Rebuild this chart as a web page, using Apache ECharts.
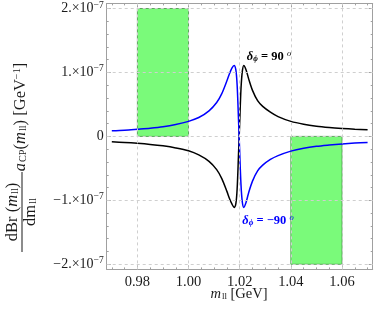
<!DOCTYPE html>
<html><head><meta charset="utf-8">
<script src="https://cdn.jsdelivr.net/npm/echarts@6/dist/echarts.min.js"></script>
<style>html,body{margin:0;padding:0;background:#fff}#c{width:374px;height:310px}</style>
</head><body><div id="c"></div>
<script>
// ---- data ----
const xTicks = [0.98, 1.00, 1.02, 1.04, 1.06];
const xMinorTicks = [0.970, 0.975, 0.985, 0.990, 0.995, 1.005, 1.010, 1.015, 1.025, 1.030, 1.035, 1.045, 1.050, 1.055, 1.065, 1.070];
const yTicks = [-2, -1, 0, 1, 2]; // in units of 1e-7
const yMinorTicks = [-1.8, -1.6, -1.4, -1.2, -0.8, -0.6, -0.4, -0.2, 0.2, 0.4, 0.6, 0.8, 1.2, 1.4, 1.6, 1.8];
const mValues = [0.970, 0.975, 0.980, 0.985, 0.990, 0.995, 1.000, 1.004, 1.008, 1.011, 1.013, 1.015, 1.016, 1.017, 1.0178, 1.0185, 1.019, 1.0195, 1.020, 1.0205, 1.021, 1.0216, 1.0225, 1.0235, 1.025, 1.027, 1.029, 1.032, 1.035, 1.040, 1.045, 1.050, 1.055, 1.060, 1.065, 1.070];
// delta_phi = -90 deg (blue), units 1e-7
const blueValues = [0.088, 0.097, 0.112, 0.128, 0.150, 0.185, 0.235, 0.295, 0.40, 0.53, 0.67, 0.87, 0.98, 1.07, 1.11, 1.04, 0.80, 0.30, -0.25, -0.75, -1.02, -1.11, -1.03, -0.88, -0.70, -0.54, -0.45, -0.36, -0.30, -0.23, -0.185, -0.155, -0.135, -0.118, -0.105, -0.095];
// delta_phi = 90 deg (black), units 1e-7
const blackValues = [-0.085, -0.095, -0.108, -0.125, -0.148, -0.18, -0.225, -0.29, -0.39, -0.52, -0.66, -0.86, -0.97, -1.06, -1.11, -1.05, -0.82, -0.32, 0.22, 0.74, 1.01, 1.11, 1.04, 0.90, 0.72, 0.56, 0.47, 0.38, 0.31, 0.235, 0.19, 0.16, 0.14, 0.125, 0.113, 0.103];
// experimental bands: [xFrom, xTo, yFrom, yTo]
const bands = [[0.98, 1.00, 0, 2], [1.04, 1.06, -2, 0]];

// ---- chart ----
const SERIF = '"Liberation Serif", "DejaVu Serif", serif';
const chart = echarts.init(document.getElementById('c'), null, {renderer: 'canvas'});
const frameColor = '#a0a0a0';
const TXT = '#1a1a1a';
function xAxisDef(pos, ticks, len, labels, line) {
  return {
    type: 'value', position: pos, min: 0.968, max: 1.072,
    axisLine: {show: line, onZero: false, lineStyle: {color: frameColor, width: 1}},
    axisTick: {show: true, inside: true, length: len, customValues: ticks, lineStyle: {color: frameColor}},
    axisLabel: labels ? {show: true, customValues: ticks, margin: 5, color: TXT, fontFamily: SERIF, fontSize: 14.5,
      formatter: v => v.toFixed(2)} : {show: false},
    splitLine: {show: false}
  };
}
function yAxisDef(pos, ticks, len, labels, line) {
  return {
    type: 'value', position: pos, min: -2.08, max: 2.08,
    axisLine: {show: line, onZero: false, lineStyle: {color: frameColor, width: 1}},
    axisTick: {show: true, inside: true, length: len, customValues: ticks, lineStyle: {color: frameColor}},
    axisLabel: labels ? {show: true, customValues: ticks, margin: 3, color: TXT, fontFamily: SERIF, fontSize: 14,
      formatter: v => v === 0 ? '{a|0}' : '{a|' + (v < 0 ? '\u2212' : '') + Math.abs(v) + '.\u00d710}{s|\u22127}',
      rich: {a: {fontFamily: SERIF, fontSize: 14, color: TXT}, s: {fontFamily: SERIF, fontSize: 9.5, color: TXT, padding: [0, 0, 7, 0]}}
    } : {show: false},
    splitLine: {show: false}
  };
}
const gridLineStyle = {color: '#cfcfcf', type: [3, 3], width: 1};
function richBase(fill, size) {
  return {
    t: {fontFamily: SERIF, fontSize: size, fill: fill},
    i: {fontFamily: SERIF, fontSize: size, fontStyle: 'italic', fill: fill},
    sub: {fontFamily: SERIF, fontSize: size * 0.62, fill: fill, padding: [5, 0, 0, 1]},
    subi: {fontFamily: SERIF, fontSize: size * 0.62, fontStyle: 'italic', fill: fill, padding: [5, 0, 0, 0]},
    sup: {fontFamily: SERIF, fontSize: size * 0.62, fill: fill, padding: [0, 0, 7, 0]}
  };
}
const annRich = fill => ({
  d: {fontFamily: SERIF, fontSize: 12.5, fontWeight: 'bold', fontStyle: 'italic', fill: fill},
  sub: {fontFamily: SERIF, fontSize: 8, fontWeight: 'bold', fontStyle: 'italic', fill: fill, padding: [4, 0, 0, 0]},
  b: {fontFamily: SERIF, fontSize: 12.5, fontWeight: 'bold', fill: fill},
  sup: {fontFamily: SERIF, fontSize: 8.5, fontStyle: 'italic', fill: fill, padding: [0, 0, 6, 0]}
});
const TS = 16.5; // y title font size
const option = {
  animation: false,
  grid: {left: 106.7, top: 3.4, width: 266, height: 266, containLabel: false},
  xAxis: [
    xAxisDef('bottom', xTicks, 4, true, true),
    xAxisDef('bottom', xMinorTicks, 2, false, false),
    xAxisDef('top', xTicks, 4, false, true),
    xAxisDef('top', xMinorTicks, 2, false, false)
  ],
  yAxis: [
    yAxisDef('left', yTicks, 4, true, true),
    yAxisDef('left', yMinorTicks, 2, false, false),
    yAxisDef('right', yTicks, 4, false, true),
    yAxisDef('right', yMinorTicks, 2, false, false)
  ],
  series: [
    {
      type: 'line', data: [], silent: true, z: 1,
      markLine: {
        silent: true, symbol: 'none', label: {show: false}, lineStyle: gridLineStyle,
        data: xTicks.map(v => ({xAxis: v})).concat(yTicks.map(v => ({yAxis: v})))
      },
      markArea: {
        silent: true,
        itemStyle: {color: 'rgb(122,250,122)', borderColor: '#5aa85a', borderWidth: 1},
        data: bands.map(b => [{coord: [b[0], b[3]]}, {coord: [b[1], b[2]]}])
      }
    },
    {
      name: 'black', type: 'line', z: 3, showSymbol: false, smooth: 0.3,
      lineStyle: {color: '#000', width: 1.5},
      data: mValues.map((m, i) => [m, blackValues[i]])
    },
    {
      name: 'blue', type: 'line', z: 3, showSymbol: false, smooth: 0.3,
      lineStyle: {color: '#0000ff', width: 1.5},
      data: mValues.map((m, i) => [m, blueValues[i]])
    }
  ],
  graphic: [
    {type: 'text', z: 100, x: 269, y: 57, style: {
      text: '{d|\u03b4}{sub|\u03d5}{b| = 90 }{sup|o}', align: 'center', verticalAlign: 'middle', rich: annRich('#000')}},
    {type: 'text', z: 100, x: 268, y: 221, style: {
      text: '{d|\u03b4}{sub|\u03d5}{b| = \u221290 }{sup|o}', align: 'center', verticalAlign: 'middle', rich: annRich('#0000ff')}},
    // x axis title
    {type: 'text', z: 100, x: 239, y: 294, style: {
      text: '{i|m}{sub|ll}{t| [GeV]}', align: 'center', verticalAlign: 'middle', rich: richBase(TXT, 14.5)}},
    // y axis title: fraction numerator
    {type: 'text', z: 100, x: 13, y: 212, rotation: Math.PI / 2, style: {
      text: '{t|dBr (}{i|m}{sub|ll}{t|)}', align: 'center', verticalAlign: 'middle', rich: richBase(TXT, TS)}},
    {type: 'rect', z: 100, shape: {x: 21.5, y: 172, width: 1, height: 80}, style: {fill: TXT}},
    {type: 'text', z: 100, x: 31, y: 212, rotation: Math.PI / 2, style: {
      text: '{t|dm}{sub|ll}', align: 'center', verticalAlign: 'middle', rich: richBase(TXT, TS)}},
    {type: 'text', z: 100, x: 21, y: 117, rotation: Math.PI / 2, style: {
      text: '{i|a}{sub|CP}{t|(}{i|m}{sub|ll}{t|) [GeV}{sup|\u22121}{t|]}', align: 'center', verticalAlign: 'middle', rich: richBase(TXT, TS)}}
  ]
};
chart.setOption(option);
</script></body></html>
